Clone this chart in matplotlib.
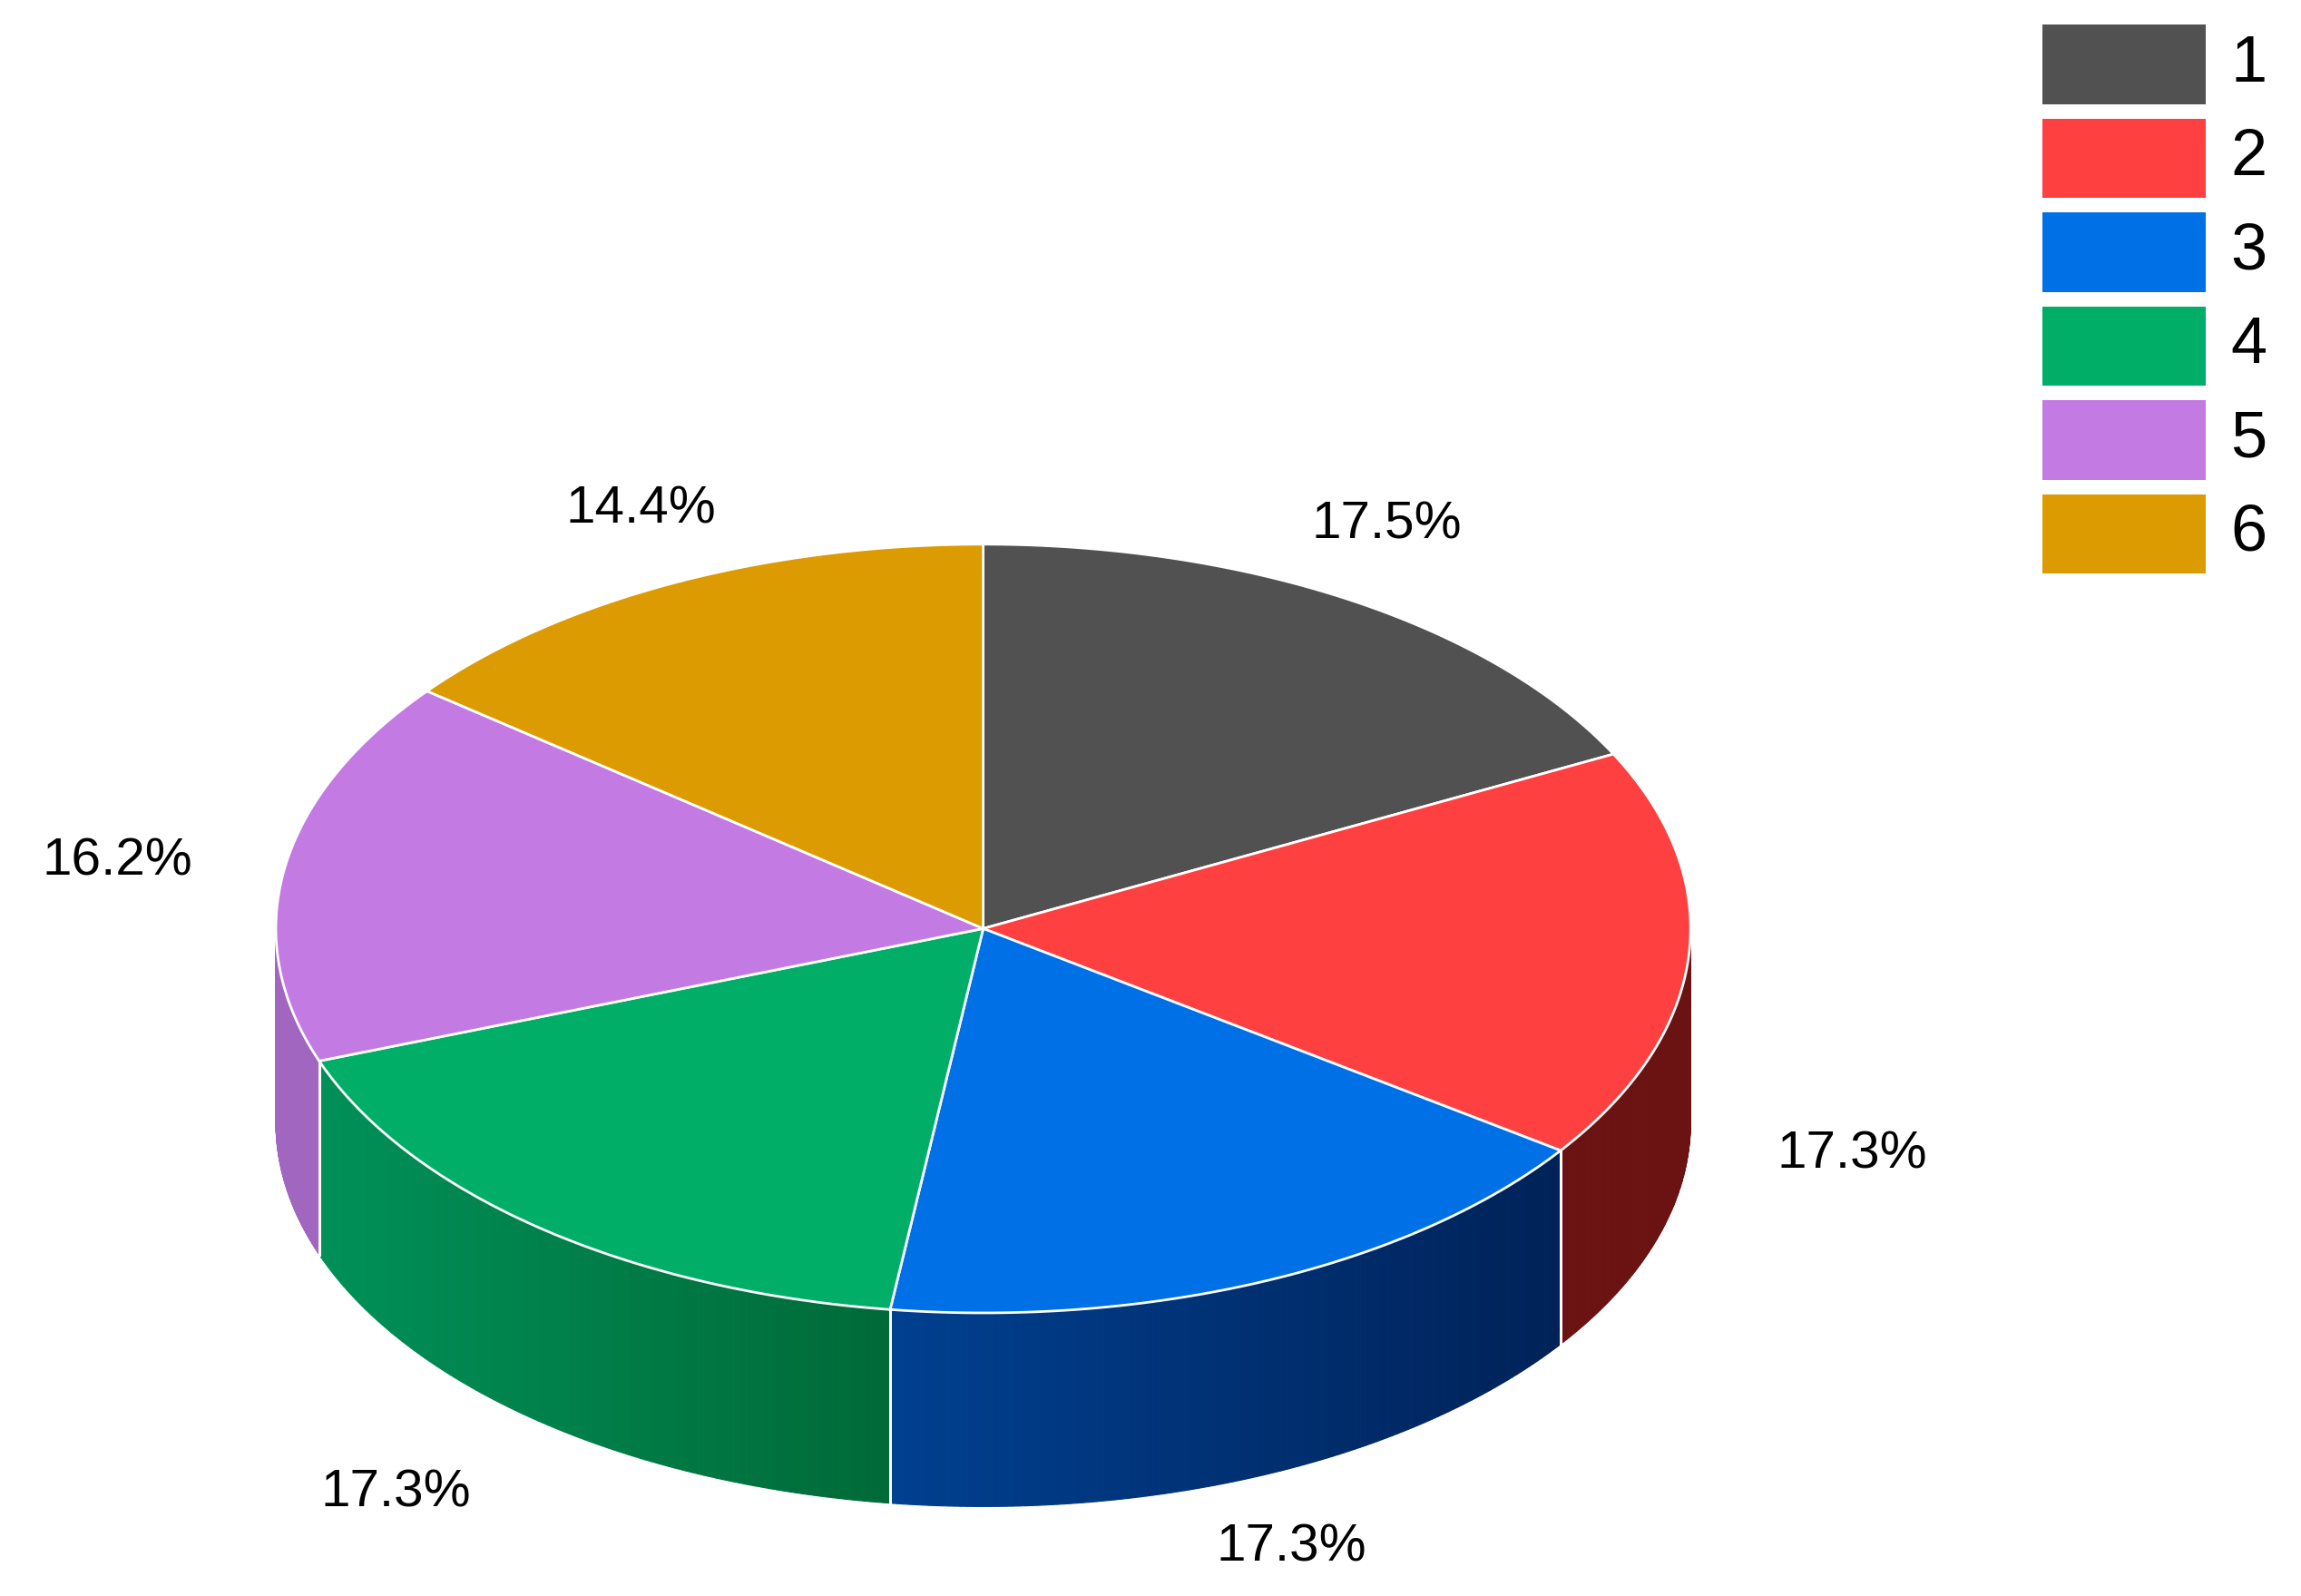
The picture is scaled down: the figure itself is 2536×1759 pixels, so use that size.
import numpy as np
import matplotlib
matplotlib.use("Agg")
import matplotlib.pyplot as plt
from matplotlib.patches import Polygon, Rectangle
from matplotlib.colors import to_rgb

categories = ["1", "2", "3", "4", "5", "6"]
values = [17.5, 17.3, 17.3, 17.3, 16.2, 14.4]
colors = ["#515151", "#ff4040", "#0070e6", "#00ae68", "#c47ae3", "#dc9b00"]
side_left = ["#333333", "#6b1212", "#004090", "#009058", "#a066c0", "#a07000"]
side_right = ["#222222", "#6b1212", "#002258", "#006a38", "#a066c0", "#a07000"]
label_pos = [(945, 358), (1262, 787), (880, 1055), (270, 1018), (80, 587), (437, 347)]

plt.rcParams['font.family'] = ['Liberation Sans', 'DejaVu Sans']
fig = plt.figure(figsize=(25.36, 17.59), dpi=100)
ax = fig.add_axes([0, 0, 1, 1])
ax.set_xlim(0, 1568); ax.set_ylim(1088, 0); ax.axis("off")

cx, cy, rx, ry, depth = 670, 633, 482, 262, 132
def pt(t, dy=0):
    return cx + rx*np.sin(t), cy - ry*np.cos(t) + dy

fr = np.array(values) / sum(values)
bounds = np.concatenate([[0], np.cumsum(fr)]) * 2*np.pi

# sides
for i in range(len(values)):
    a0, a1 = max(bounds[i], np.pi/2), min(bounds[i+1], 3*np.pi/2)
    if a1 <= a0:
        continue
    ts = np.linspace(a0, a1, 120)
    cl, cr = np.array(to_rgb(side_left[i])), np.array(to_rgb(side_right[i]))
    xs = [pt(t)[0] for t in ts]
    xmin, xmax = min(xs), max(xs)
    for j in range(len(ts)-1):
        p0, p1 = pt(ts[j]), pt(ts[j+1])
        f = ((p0[0]+p1[0])/2 - xmin) / max(xmax - xmin, 1)
        c = cl*(1-f) + cr*f if i in (2, 3) else cl
        ax.add_patch(Polygon([p0, p1, (p1[0], p1[1]+depth), (p0[0], p0[1]+depth)],
                             closed=True, fc=c, ec=c, lw=0.8))
    for a in (bounds[i], bounds[i+1]):
        if np.pi/2 <= a <= 3*np.pi/2:
            x, y = pt(a)
            ax.plot([x, x], [y, y+depth], color="white", lw=2)

# top
for i in range(len(values)):
    ts = np.linspace(bounds[i], bounds[i+1], 200)
    poly = [(cx, cy)] + [pt(t) for t in ts]
    ax.add_patch(Polygon(poly, closed=True, fc=colors[i], ec="white", lw=2))

for i, v in enumerate(values):
    ax.text(*label_pos[i], f"{v}%", fontsize=42, ha="center", va="center")

# legend
for i, c in enumerate(categories):
    y = 17 + 64*i
    ax.add_patch(Rectangle((1392, y), 111, 54, fc=colors[i], ec="none"))
    ax.text(1520, y+27, c, fontsize=52, ha="left", va="center")

fig.savefig("out.png", dpi=100)
